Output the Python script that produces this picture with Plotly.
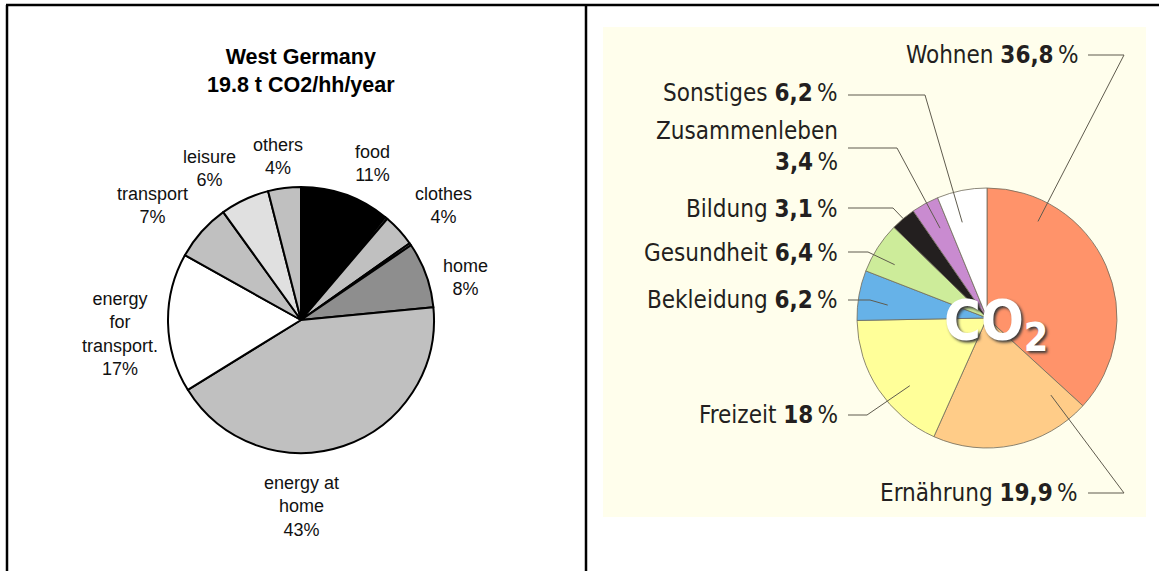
import math
import plotly.graph_objects as go

# --- DATOS ---
W, H = 1159, 571

# Pie izquierdo (West Germany), sentido horario desde las 12
left_names = ["food", "gap a", "clothes", "gap b", "home", "energy at home",
              "energy for transport.", "transport", "leisure", "others"]
left_values = [11, 0.3, 4, 0.3, 8, 43, 17, 7, 6, 4]
left_colors = ["#000000", "#6a6a6a", "#c0c0c0", "#6a6a6a", "#8e8e8e", "#c0c0c0",
               "#ffffff", "#c0c0c0", "#e0e0e0", "#c0c0c0"]
# texto de las etiquetas (con saltos de linea)
left_label_names = {"food": "food", "clothes": "clothes", "home": "home",
                    "energy at home": "energy at<br>home",
                    "energy for transport.": "energy<br>for<br>transport.",
                    "transport": "transport", "leisure": "leisure", "others": "others"}

# Pie derecho (CO2 Haushalt)
right_names = ["Wohnen", "Ernährung", "Freizeit", "Bekleidung", "Gesundheit",
               "Bildung", "Zusammenleben", "Sonstiges"]
right_values = [36.8, 19.9, 18, 6.2, 6.4, 3.1, 3.4, 6.2]
right_colors = ["#ff936a", "#ffcc88", "#ffff99", "#66b2e8", "#cdec9a",
                "#231f1f", "#c98bd0", "#ffffff"]

# --- LAYOUT (pixeles) ---
L_CX, L_CY, L_R = 301, 320, 133
R_CX, R_CY, R_R = 987, 318, 130

left_label_pos = {"food": (372, 164), "clothes": (443, 206), "home": (465, 277),
                  "energy at home": (301, 506), "energy for transport.": (120, 334),
                  "transport": (152, 206), "leisure": (209, 169), "others": (278, 157)}

# texto x derecho, texto y, linea y, x inicio linea, x codo, fraccion angular, radio relativo
right_label_layout = {
    "Wohnen":        (1080, 55, 55, 1088, 1124, 0.21, 0.84),
    "Ernährung":     (1080, 493, 493, 1088, 1124, 0.11, 0.77),
    "Freizeit":      (840, 415, 415, 848, 867, 0.38, 0.79),
    "Bekleidung":    (840, 300, 300, 848, 870, 0.38, 0.77),
    "Gesundheit":    (840, 253, 252, 848, 868, 0.38, 0.82),
    "Bildung":       (840, 209, 208, 848, 893, 0.50, 1.00),
    "Zusammenleben": (840, 147, 148, 848, 897, 0.57, 0.78),
    "Sonstiges":     (840, 93, 95, 848, 925, 0.35, 0.76),
}


def fx(x):
    return x / W


def fy(y):
    return 1 - y / H


def dominio(cx, cy, r):
    return dict(x=[fx(cx - r), fx(cx + r)], y=[fy(cy + r), fy(cy - r)])


fig = go.Figure()

fig.add_trace(go.Pie(
    labels=left_names, values=left_values, sort=False, direction="clockwise",
    rotation=0, textinfo="none", hoverinfo="label+percent",
    marker=dict(colors=left_colors, line=dict(color="#000000", width=2)),
    domain=dominio(L_CX, L_CY, L_R), showlegend=False,
))

fig.add_trace(go.Pie(
    labels=right_names, values=right_values, sort=False, direction="clockwise",
    rotation=0, textinfo="none", hoverinfo="label+percent",
    marker=dict(colors=right_colors, line=dict(color="#6e6a5a", width=0.8)),
    domain=dominio(R_CX, R_CY, R_R), showlegend=False,
))

shapes = []
annotations = []

# fondo crema del grafico derecho
shapes.append(dict(type="rect", xref="paper", yref="paper", x0=fx(603), x1=fx(1146),
                   y0=fy(517), y1=fy(27), fillcolor="#fffeec", line=dict(width=0),
                   layer="below"))

# marco de tabla
for x0, y0, x1, y1 in [(6, 5, W, 5), (7, 5, 7, H), (586, 5, 586, H)]:
    shapes.append(dict(type="line", xref="paper", yref="paper", x0=fx(x0), y0=fy(y0),
                       x1=fx(x1), y1=fy(y1), line=dict(color="#000000", width=2.5),
                       layer="above"))


def nota(x, y, texto, font, xanchor="center", align="center"):
    return dict(x=fx(x), y=fy(y), xref="paper", yref="paper", text=texto,
                showarrow=False, xanchor=xanchor, yanchor="middle", align=align,
                font=font)


# titulo izquierdo
annotations.append(nota(301, 71, "<b>West Germany<br>19.8 t CO2/hh/year</b>",
                        dict(family="Liberation Sans, Arial", size=21.5, color="#000000")))

# etiquetas izquierdas
for name, v in zip(left_names, left_values):
    if name not in left_label_pos:
        continue
    x, y = left_label_pos[name]
    annotations.append(nota(x, y, f"{left_label_names[name]}<br>{v:g}%",
                            dict(family="Liberation Sans, Arial", size=18,
                                 color="#111111")))

# etiquetas derechas con lineas guia
total_right = sum(right_values)
inicio = 0.0
font_r = "DejaVu Sans Condensed, Liberation Sans Narrow, Liberation Sans, Arial"
for name, v in zip(right_names, right_values):
    span = v / total_right * 360
    tx, ty, ly, lx0, ex, frac, rf = right_label_layout[name]
    th = math.radians(inicio + frac * span)
    ax = R_CX + rf * R_R * math.sin(th)
    ay = R_CY - rf * R_R * math.cos(th)
    inicio += span

    valor = f"{v:g}".replace(".", ",")
    if name == "Zusammenleben":
        texto = f"{name}<br><b>{valor}</b>\u2009%"
    else:
        texto = f"{name} <b>{valor}</b>\u2009%"
    annotations.append(nota(tx, ty, texto,
                            dict(family=font_r, size=24, color="#231f20"),
                            xanchor="right", align="right"))
    path = f"M {fx(lx0)},{fy(ly)} L {fx(ex)},{fy(ly)} L {fx(ax)},{fy(ay)}"
    shapes.append(dict(type="path", xref="paper", yref="paper", path=path,
                       line=dict(color="#5f5b4e", width=1), layer="above"))

# rotulo CO2 en el centro
annotations.append(nota(996, 323, "<b>CO<sub>2</sub></b>",
                        dict(family=font_r, size=56, color="#ffffff",
                             shadow="2px 2px 3px #3a3a3a")))

fig.update_layout(
    width=W, height=H,
    margin=dict(l=0, r=0, t=0, b=0),
    paper_bgcolor="#ffffff",
    plot_bgcolor="#ffffff",
    shapes=shapes,
    annotations=annotations,
    showlegend=False,
)

fig.write_html("out.html", config={"displayModeBar": False},
               post_script="document.body.style.margin='0';")
